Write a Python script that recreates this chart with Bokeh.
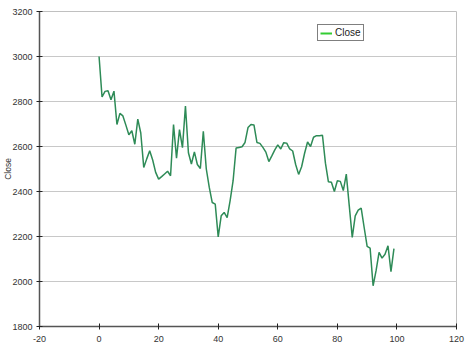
from bokeh.plotting import figure
from bokeh.models import Legend, LegendItem, FixedTicker, Range1d
from bokeh.embed import file_html
from bokeh.resources import INLINE

# Data
index = list(range(100))
close = [
    3000, 2820, 2845, 2848, 2808, 2846, 2698, 2747, 2736, 2695,
    2652, 2670, 2610, 2722, 2660, 2507, 2545, 2581, 2540, 2485,
    2455, 2466, 2478, 2490, 2470, 2698, 2548, 2675, 2595, 2780,
    2572, 2522, 2576, 2520, 2502, 2668, 2500, 2418, 2351, 2344,
    2198, 2292, 2307, 2284, 2359, 2448, 2593, 2596, 2599, 2618,
    2684, 2698, 2696, 2618, 2614, 2596, 2575, 2533, 2558, 2585,
    2607, 2589, 2617, 2615, 2589, 2580, 2520, 2476, 2510, 2570,
    2620, 2600, 2641, 2648, 2648, 2650, 2526, 2443, 2441, 2400,
    2448, 2445, 2404, 2477, 2336, 2196, 2292, 2317, 2326, 2240,
    2156, 2148, 1981, 2048, 2129, 2104, 2121, 2159, 2044, 2146,
]
x_ticks = [-20, 0, 20, 40, 60, 80, 100, 120]
x_tick_labels = ["-20", "0", "20", "40", "60", "80", "100", "120"]
y_ticks = [1800, 2000, 2200, 2400, 2600, 2800, 3000, 3200]
series_name = "Close"

FONT = "Liberation Sans"

p = figure(width=468, height=348, output_backend="svg", toolbar_location=None,
           x_range=Range1d(-20, 120), y_range=Range1d(1800, 3200),
           min_border_left=39, min_border_right=12, min_border_top=11,
           min_border_bottom=22)

p.background_fill_color = "white"
p.border_fill_color = "white"
p.outline_line_color = "#c0c0c0"
p.outline_line_width = 1

line = p.line(index, close, line_color="#2e8b57", line_width=1.5)
# off-range helper line that only supplies the legend swatch
dummy = p.line([-200, -199], [0, 0], line_color="#33cc33", line_width=2)

for ax, ticks in ((p.xaxis[0], x_ticks), (p.yaxis[0], y_ticks)):
    ax.ticker = FixedTicker(ticks=ticks)
    ax.minor_tick_line_color = None
    ax.major_tick_in = 3
    ax.major_tick_out = 3
    ax.major_tick_line_color = "#222222"
    ax.axis_line_color = "#555555"
    ax.axis_line_width = 1.5
    ax.major_label_text_font = FONT
    ax.major_label_text_font_size = "9px"
    ax.major_label_text_color = "#333333"
p.xaxis.major_label_overrides = {t: s for t, s in zip(x_ticks, x_tick_labels)}
p.xaxis.major_label_standoff = 6
p.yaxis.major_label_standoff = 4
p.yaxis.axis_label = series_name
p.yaxis.axis_label_standoff = -4
p.yaxis.axis_label_text_font = FONT
p.yaxis.axis_label_text_font_size = "8.5px"
p.yaxis.axis_label_text_font_style = "normal"
p.yaxis.axis_label_text_color = "#333333"

p.xgrid.grid_line_color = None
p.ygrid.grid_line_color = "#c8c8c8"
p.ygrid.grid_line_width = 1
p.ygrid.ticker = FixedTicker(ticks=y_ticks)

legend = Legend(items=[LegendItem(label=series_name, renderers=[dummy])],
                location=(278, 285), padding=2, spacing=0, margin=0,
                glyph_width=12, glyph_height=8, label_height=10,
                label_standoff=3, label_text_font=FONT,
                label_text_font_size="10px", label_text_color="#222222",
                border_line_color="black", border_line_width=1,
                background_fill_color="white", background_fill_alpha=1)
p.add_layout(legend)

open("out.html", "w").write(file_html(p, INLINE))
